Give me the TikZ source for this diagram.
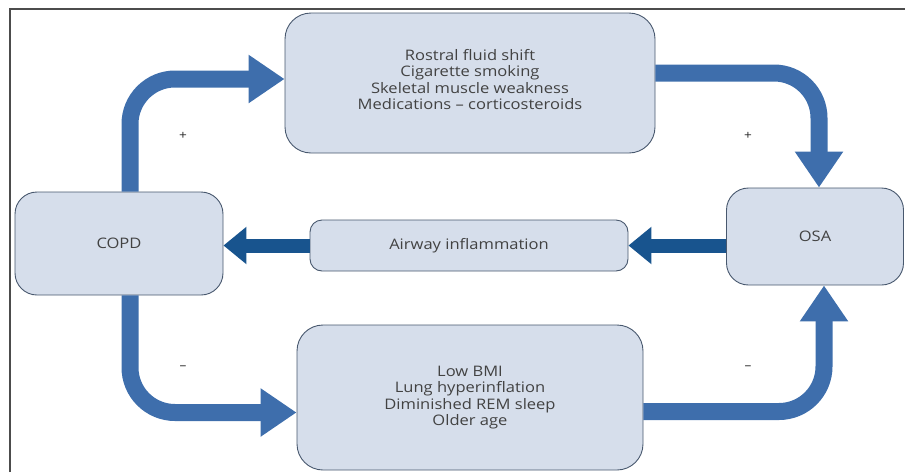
\documentclass[tikz,border=0pt]{standalone}
\usepackage{fontspec}
\setmainfont{Open Sans}[FakeStretch=1.14]
\usetikzlibrary{arrows.meta,positioning}
\definecolor{boxfill}{RGB}{214,222,235}
\definecolor{boxline}{RGB}{72,88,110}
\definecolor{flowblue}{RGB}{62,110,172}
\definecolor{darkflow}{RGB}{24,84,142}
\definecolor{txtgrey}{RGB}{66,66,66}

\begin{document}
\begin{tikzpicture}[x=1pt,y=-1pt]
    \useasboundingbox (0,0) rectangle (905,472);
    % frame of the figure
    \draw[gray!60!black, line width=1.2] (10,472) |- (905,9);

    \begin{scope}[every node/.style={draw=boxline, line width=0.9, fill=boxfill, align=center,
                  text=txtgrey, font=\fontsize{14.5}{16.4}\selectfont, inner sep=0pt}]
        \node (incr) at (470,83) [minimum width=370, minimum height=140, rounded corners=26]
            {Rostral fluid shift\\Cigarette smoking\\Skeletal muscle weakness\\Medications -- corticosteroids\\[-9pt]};
        \node (copd) at (119,243.5) [minimum width=208, minimum height=103, rounded corners=22] {COPD};
        \node (osa) at (815,236.5) [minimum width=177, minimum height=97, rounded corners=22] {OSA};
        \node (airway) at (469,245.5) [minimum width=318, minimum height=51, rounded corners=12] {Airway inflammation};
        \node (decr) at (470,397.5) [minimum width=346, minimum height=145, rounded corners=26]
            {Low BMI\\Lung hyperinflation\\Diminished REM sleep\\Older age};
    \end{scope}

    \begin{scope}[draw=flowblue, line width=17, rounded corners=45,
                  -{Triangle[length=36pt,width=46pt]}]
        \draw ([xshift=11pt]copd.north) |- ([yshift=4pt]incr.west);
        \draw ([yshift=10pt]incr.east) -| ([xshift=4pt]osa.north);
        \draw ([xshift=11pt]copd.south) |- ([yshift=-15pt]decr.west);
        \draw ([yshift=-14pt]decr.east) -| ([xshift=9pt]osa.south);
    \end{scope}

    \begin{scope}[draw=darkflow, line width=14, -{Triangle[length=23pt,width=36pt]}]
        \draw (osa.west |- airway) -- (airway.east);
        \draw (airway.west) -- (copd.east |- airway);
    \end{scope}

    % signs
    \begin{scope}[every node/.style={font=\fontsize{12}{12}\selectfont, text=black!85}]
        \node (plusl) at (183,136) {+};
        \node (plusr) at (748,136) {+};
        \node (minusl) at (183,368) {--};
        \node (minusr) at (748,368) {--};
    \end{scope}
\end{tikzpicture}
\end{document}
